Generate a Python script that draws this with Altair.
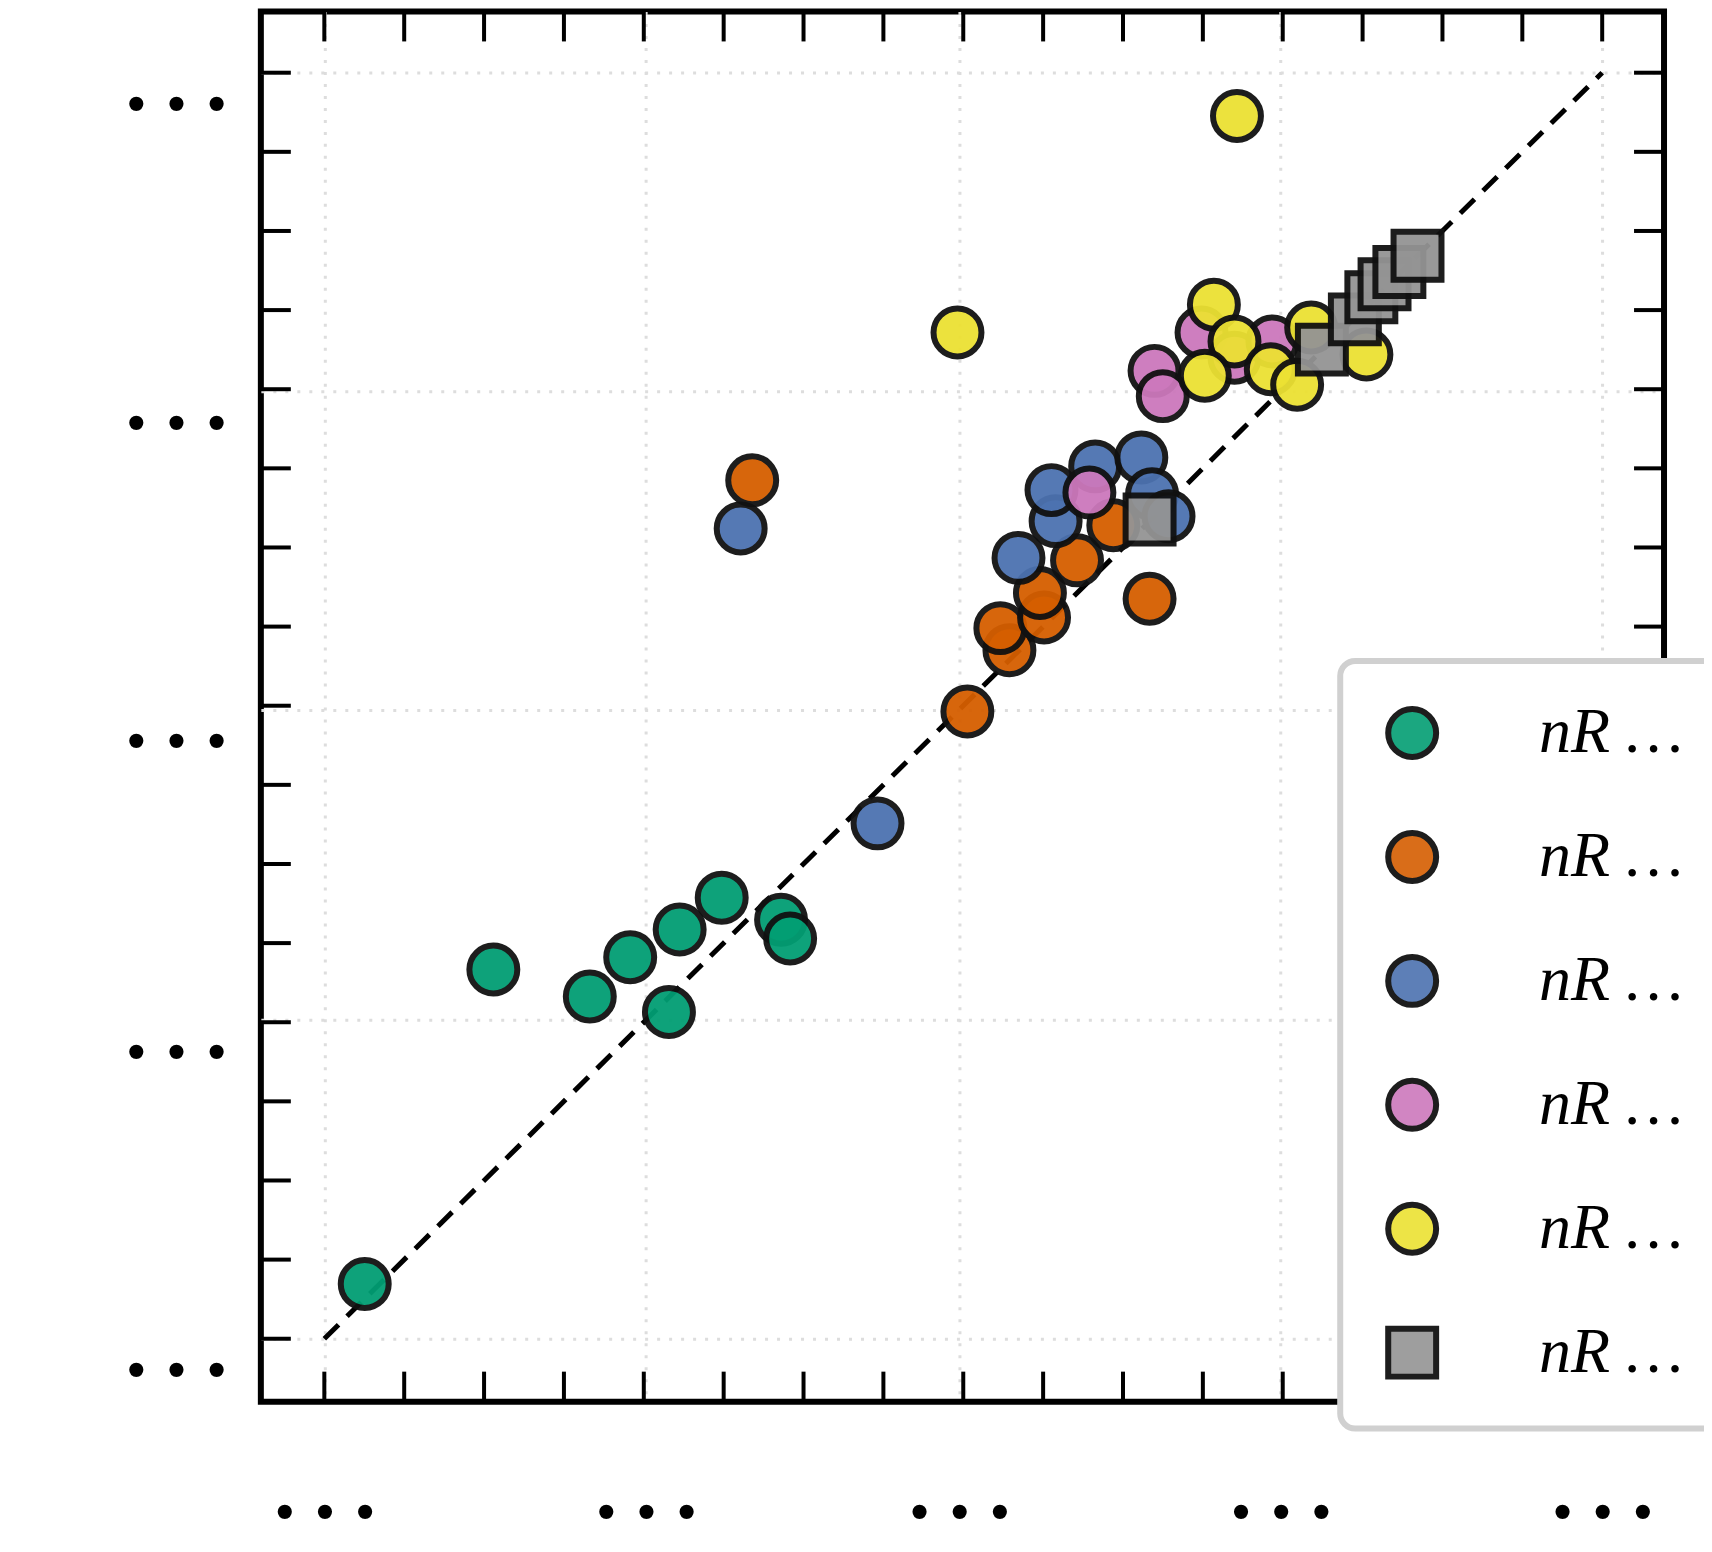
import altair as alt
import pandas as pd

labels = ["nR = 3", "nR = 5", "nR = 7", "nR = 9", "nR = 12", "nR = 16"]
colors = ["#029e73", "#d55e00", "#4c72b0", "#cc78bc", "#ece133", "#949494"]
shapes = ["circle", "circle", "circle", "circle", "circle", "square"]

x3 = [21.69, 23.25, 24.42, 24.91, 25.51, 25.38, 26.02, 26.74, 26.85]
y3 = [21.87, 25.72, 25.39, 25.87, 26.21, 25.20, 26.60, 26.33, 26.10]
x5 = [26.39, 29.00, 29.51, 29.40, 29.93, 29.88, 30.33, 30.77, 31.21]
y5 = [31.71, 28.88, 29.63, 29.90, 30.03, 30.33, 30.73, 31.16, 30.26]
x7 = [26.25, 27.91, 29.62, 30.07, 30.02, 30.55, 31.11, 31.24, 31.44]
y7 = [31.12, 27.51, 30.76, 31.21, 31.59, 31.88, 31.99, 31.54, 31.27]
x9 = [30.48, 31.27, 31.37, 31.84, 32.24, 32.70]
y9 = [31.56, 33.05, 32.74, 33.52, 33.21, 33.41]
x12 = [32.27, 28.88, 31.99, 32.24, 31.88, 32.68, 33.00, 33.17, 33.84]
y12 = [36.17, 33.52, 33.86, 33.41, 32.99, 33.07, 32.88, 33.58, 33.25]
x16 = [31.21, 33.30, 33.70, 33.90, 34.06, 34.24, 34.46]
y16 = [31.23, 33.31, 33.68, 33.95, 34.11, 34.26, 34.46]

major = [21.2, 25.1, 28.9, 32.8, 36.7]
minor = [21.2 + k * 0.96875 for k in range(17)]
lo, hi = 20.43, 37.45
W, H = 1404, 1391
FONT = "Liberation Serif"

rows = []
for lab, xs, ys in zip(labels, [x3, x5, x7, x9, x12, x16], [y3, y5, y7, y9, y12, y16]):
    for a, b in zip(xs, ys):
        rows.append({"g": lab, "x": a, "y": b})
df = pd.DataFrame(rows)

xs = alt.Scale(domain=[lo, hi], nice=False, zero=False)
ys = alt.Scale(domain=[lo, hi], nice=False, zero=False)

xaxis = alt.Axis(values=major, format=".1f", ticks=False, domain=False, labelFont=FONT,
                 labelFontSize=120, labelColor="black", labelPadding=20,
                 grid=True, gridColor="#dddddd", gridDash=[3, 9], gridWidth=3, title=None)
yaxis = alt.Axis(values=major, format=".1f", ticks=False, domain=False, labelFont=FONT,
                 labelFontSize=120, labelColor="black", labelPadding=25,
                 grid=True, gridColor="#dddddd", gridDash=[3, 9], gridWidth=3, title=None)

diag = alt.Chart(pd.DataFrame({"x": [21.2, 36.7], "y": [21.2, 36.7]})).mark_line(
    color="black", strokeDash=[20, 12], strokeWidth=5
).encode(x=alt.X("x:Q", scale=xs, axis=xaxis), y=alt.Y("y:Q", scale=ys, axis=yaxis))

pts = alt.Chart(df).mark_point(filled=True, size=2300, opacity=0.95, stroke="#111111",
                               strokeWidth=6).encode(
    x=alt.X("x:Q", scale=xs),
    y=alt.Y("y:Q", scale=ys),
    color=alt.Color("g:N", scale=alt.Scale(domain=labels, range=colors), sort=labels,
                    legend=alt.Legend(title=None, orient="none", legendX=1080, legendY=650,
                                      labelFont=FONT, labelFontSize=64, labelFontStyle="italic",
                                      labelColor="black", labelOffset=95, symbolSize=2300,
                                      symbolStrokeWidth=6, symbolStrokeColor="#111111",
                                      symbolOpacity=1)),
    shape=alt.Shape("g:N", scale=alt.Scale(domain=labels, range=shapes), sort=labels),
)

tk = pd.DataFrame({"v": minor})
tlen = 30
bot = alt.Chart(tk).mark_rule(color="black", strokeWidth=4).encode(
    x=alt.X("v:Q", scale=xs), y=alt.value(H), y2=alt.value(H - tlen))
top = alt.Chart(tk).mark_rule(color="black", strokeWidth=4).encode(
    x=alt.X("v:Q", scale=xs), y=alt.value(0), y2=alt.value(tlen))
left = alt.Chart(tk).mark_rule(color="black", strokeWidth=4).encode(
    y=alt.Y("v:Q", scale=ys), x=alt.value(0), x2=alt.value(tlen))
right = alt.Chart(tk).mark_rule(color="black", strokeWidth=4).encode(
    y=alt.Y("v:Q", scale=ys), x=alt.value(W), x2=alt.value(W - tlen))

chart = alt.layer(diag, pts, bot, top, left, right).properties(
    width=W, height=H,
    background="white",
    autosize=alt.AutoSizeParams(type="none"),
    padding={"left": 253, "top": 3, "right": 40, "bottom": 140},
).configure_view(stroke="black", strokeWidth=6).configure_legend(
    rowPadding=52, padding=40, cornerRadius=15, strokeColor="#d0d0d0",
    strokeWidth=6, fillColor="white"
)

chart.save("out.html", embed_options={"renderer": "svg", "actions": False})
